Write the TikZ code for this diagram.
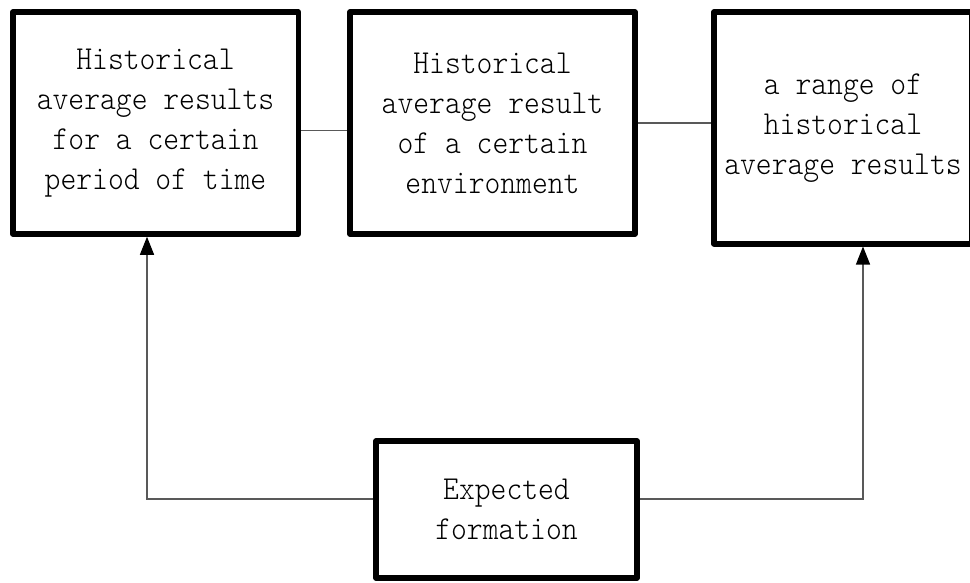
\documentclass[tikz,border=0pt]{standalone}
\usepackage{fontspec}
\newfontfamily\boxfont[FakeStretch=0.9]{Latin Modern Mono Light}
\usetikzlibrary{arrows.meta}
\tikzset{
  boxnode/.style={draw=black, line width=5.5pt, line join=round, inner sep=0pt,
    align=center, font=\boxfont\fontsize{33.5}{40}\selectfont},
  thinline/.style={draw=black!65, line width=1.1pt},
  arr/.style={thinline, -{Triangle[length=18pt,width=14pt,color=black]}}
}
\begin{document}
\begin{tikzpicture}[x=1pt,y=-1pt]
\useasboundingbox (0,0) rectangle (970,583);
\fill[white] (0,0) rectangle (970,583);
\node[boxnode, minimum width=285.5pt, minimum height=222pt] (b1) at (155.5,123)
  {Historical\\average results\\for a certain\\period of time};
\node[boxnode, minimum width=285pt, minimum height=222pt] (b2) at (492.5,123)
  {Historical\\average result\\of a certain\\environment};
\node[boxnode, minimum width=258pt, minimum height=231.5pt] (b3) at (843,128)
  {a range of\\historical\\average results};
\node[boxnode, minimum width=261pt, minimum height=137pt] (b4) at (506.5,509.5)
  {Expected\\formation};
\coordinate (l1) at (0,130.5);
\coordinate (l2) at (0,123);
\coordinate (c1) at (147,499);
\coordinate (c2) at (863,499);
\draw[thinline] (b1.east |- l1) -- (b2.west |- l1);
\draw[thinline] (b2.east |- l2) -- (b3.west |- l2);
\draw[arr] (b4.west |- c1) -- (c1) -- (b1.south -| c1);
\draw[arr] (b4.east |- c2) -- (c2) -- (b3.south -| c2);
\end{tikzpicture}
\end{document}
